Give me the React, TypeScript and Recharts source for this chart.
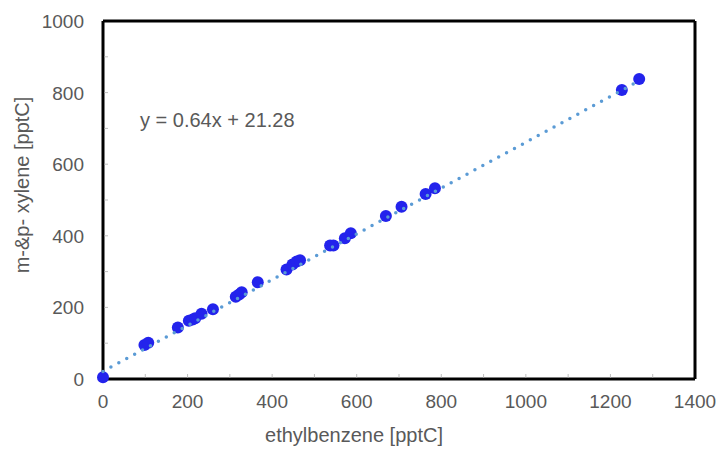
import {
  ScatterChart,
  Scatter,
  XAxis,
  YAxis,
  ReferenceLine,
} from "recharts";

const ethylbenzene = [0, 98, 107, 177, 203, 212, 218, 233, 260, 314, 322, 328, 366, 434, 448, 458, 466, 537, 545, 572, 586, 669, 706, 763, 785, 1227, 1268];
const xylene = [5, 95, 101, 144, 163, 166, 170, 182, 195, 230, 236, 242, 270, 306, 320, 328, 332, 373, 373, 393, 407, 455, 481, 517, 533, 807, 838];

const X_TICKS = [0, 100, 200, 300, 400, 500, 600, 700, 800, 900, 1000, 1100, 1200, 1300, 1400];
const Y_TICKS = [0, 100, 200, 300, 400, 500, 600, 700, 800, 900, 1000];

const SLOPE = 0.64;
const INTERCEPT = 21.28;
const EQUATION = "y = 0.64x + 21.28";

const X_TITLE = "ethylbenzene [pptC]";
const Y_TITLE = "m-&p- xylene [pptC]";

const FONT = "'Liberation Sans', Arial, Helvetica, sans-serif";
const TEXT_GRAY = "#595959";
const TICK_GRAY = "#bfbfbf";

const points = ethylbenzene.map((x, i) => ({ x, y: xylene[i] }));
const fitEndX = Math.max(...ethylbenzene);
// trendline endpoints from the fitted equation
const fitLine = [
  { x: 0, y: INTERCEPT },
  { x: fitEndX, y: SLOPE * fitEndX + INTERCEPT },
];

function XTick(props: { x?: number; y?: number; payload?: { value?: number } }) {
  const { x = 0, y = 0, payload } = props;
  const v = payload?.value ?? 0;
  const major = v % 200 === 0;
  return (
    <g>
      {v > 0 && v < 1400 && <line x1={x} x2={x} y1={y - 1.5} y2={y - 5} stroke={TICK_GRAY} strokeWidth={1} />}
      {major && (
        <text x={x} y={y + 29} textAnchor="middle" fill={TEXT_GRAY} fontSize={19} fontFamily={FONT}>
          {v}
        </text>
      )}
    </g>
  );
}

function YTick(props: { x?: number; y?: number; payload?: { value?: number } }) {
  const { x = 0, y = 0, payload } = props;
  const v = payload?.value ?? 0;
  const major = v % 200 === 0;
  return (
    <g>
      {v > 0 && v < 1000 && <line x1={x + 1.5} x2={x + 5} y1={y} y2={y} stroke={TICK_GRAY} strokeWidth={1} />}
      {major && (
        <text x={x - 19} y={y + 7} textAnchor="end" fill={TEXT_GRAY} fontSize={19} fontFamily={FONT}>
          {v}
        </text>
      )}
    </g>
  );
}

export default function App() {
  return (
    <div style={{ position: "absolute", left: 0, top: 0, width: 718, height: 450, background: "#fff" }}>
      <ScatterChart width={718} height={450} margin={{ top: 21, right: 23, left: 0, bottom: 0 }}>
        <XAxis
          type="number"
          dataKey="x"
          domain={[0, 1400]}
          ticks={X_TICKS}
          interval={0}
          height={71}
          tickSize={0}
          tickMargin={0}
          tick={XTick}
          axisLine={{ stroke: "#000", strokeWidth: 3 }}
          label={{
            value: X_TITLE,
            position: "insideBottom",
            offset: 8,
            dx: -45,
            fill: TEXT_GRAY,
            fontSize: 20,
            fontFamily: FONT,
          }}
        />
        <YAxis
          type="number"
          dataKey="y"
          domain={[0, 1000]}
          ticks={Y_TICKS}
          interval={0}
          width={103}
          tickSize={0}
          tickMargin={0}
          tick={YTick}
          axisLine={{ stroke: "#000", strokeWidth: 3 }}
          label={{
            value: Y_TITLE,
            content: () => (
              <text
                x={29}
                y={185}
                transform="rotate(-90 29 185)"
                textAnchor="middle"
                fill={TEXT_GRAY}
                fontSize={20}
                fontFamily={FONT}
              >
                {Y_TITLE}
              </text>
            ),
          }}
        />
        <ReferenceLine y={1000} stroke="#000" strokeWidth={3} />
        <ReferenceLine x={1400} stroke="#000" strokeWidth={3} />
        <Scatter
          data={points}
          isAnimationActive={false}
          shape={(p: { cx?: number; cy?: number }) => <circle cx={p.cx} cy={p.cy} r={6} fill="#2323ec" />}
        />
        <Scatter
          data={fitLine}
          isAnimationActive={false}
          line={{ stroke: "#5b9bd5", strokeWidth: 3.5, strokeDasharray: "0 9", strokeLinecap: "round" }}
          shape={() => <g />}
        />
        <text x={140} y={127} fill={TEXT_GRAY} fontSize={20} fontFamily={FONT}>
          {EQUATION}
        </text>
      </ScatterChart>
    </div>
  );
}
